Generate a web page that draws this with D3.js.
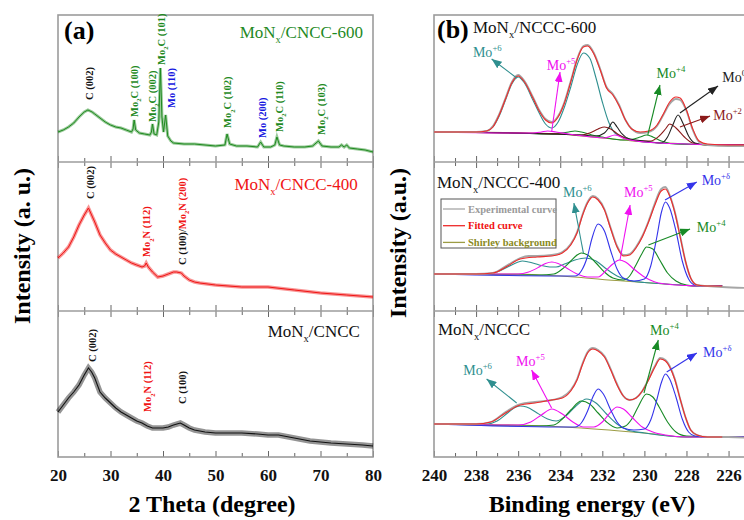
<!DOCTYPE html>
<html>
<head>
<meta charset="utf-8">
<script src="https://cdn.jsdelivr.net/npm/d3@7"></script>
<style>
  body { margin: 0; background: #fff; }
  svg { display: block; font-family: "Liberation Serif", "Times New Roman", serif; }
</style>
</head>
<body>
<div id="chart"></div>
<script>
// ---------- (a) XRD traces: [2theta, intensity] ----------
var xrd600 = [[20,30],[21,32],[22,35],[23,39],[24,45],[25,50],[25.7,52],[26.5,50],[27,48],[28,44],[29,40],[30,37],[31,35],[32,34],[33,32],[34,30],[34.3,33],[34.5,42],[34.8,32],[35.5,29],[36.5,28],[37.5,27],[37.8,30],[38.0,38],[38.3,28],[38.8,27],[39.2,40],[39.5,94],[39.8,45],[40.1,30],[40.5,47],[40.9,26],[41.5,21],[42,19],[44,18],[46,18],[48,17],[50,16],[51.8,17],[52.2,28],[52.7,18],[54,16],[56,16],[58,15],[58.6,20],[59.2,15],[60.5,15],[61.3,17],[61.7,25],[62.2,17],[63,16],[65,15],[67,15],[68.5,16],[69.6,21],[70.3,16],[72,15],[73.5,15],[74,17],[74.5,15],[75,17],[75.5,14],[77,13],[78.5,12],[80,10]]
var xrd400 = [[20,53],[21,58],[22,64],[23,74],[24,86],[25,96],[25.8,103],[26.4,96],[27,89],[28,76],[29,68],[30,61],[31,57],[32,54],[33,51],[34,48],[35,46],[36,44],[36.5,45],[36.8,48],[37.2,44],[38,39],[39,34],[40,35],[41,37],[42,39],[42.6,39],[43.5,38],[44,35],[45,31],[46,29],[47,28],[50,26],[55,24],[60,24],[65,21],[70,18],[75,16],[80,14]]
var xrdCNCC = [[20,45],[21,52],[22,59],[23,65],[24,72],[25,82],[25.8,89],[26.4,85],[27,79],[28,65],[29,59],[30,54],[31,49],[32,45],[33,42],[34,39],[35,36],[36,34],[37,31],[38,29],[39,29],[40,29],[41,30],[42,32],[43.3,34],[44,32],[45,29],[46,27],[48,25],[50,24],[52,24],[55,24],[58,23],[60,22],[62,22],[64,20],[66,18],[68,16],[70,15],[72,14],[75,13],[78,12],[80,11]]

// peak labels: [[text pieces with colour], 2theta, intensity at text start]
var xrdLabels600 = [[[["C (002)","k"]],25.9,62],[[["Mo_{2}C (100)","g"]],34.5,45],[[["Mo_{2}C (002)","g"]],37.9,40],[[["Mo_{2}C (101)","g"]],39.6,97],[[["Mo (110)","b"]],41.5,54],[[["Mo_{2}C (102)","g"]],52.3,34],[[["Mo (200)","b"]],58.9,24],[[["Mo_{2}C (110)","g"]],62.1,30],[[["Mo_{2}C (103)","g"]],70.1,27]]
var xrdLabels400 = [[[["C (002)","k"]],26.1,112],[[["Mo_{2}N (112)","r"]],36.9,54],[[["C (100)/","k"],["Mo_{2}N (200)","r"]],43.6,46]]
var xrdLabelsCNCC = [[[["C (002)","k"]],26.5,95],[[["Mo_{2}N (112)","r"]],37.1,45],[[["C (100)","k"]],43.6,53]]
var xrdNames = ["MoN_{x}/CNCC-600","MoN_{x}/CNCC-400","MoN_{x}/CNCC"]
var xrdTicks = [20,30,40,50,60,70,80]
var xrdMinor = [25,35,45,55,65,75]

// ---------- (b) XPS Mo 3d: [binding energy, intensity] ----------
var bg600 = [[240,30],[238,30],[236,29],[234,28],[233,26],[232,24],[231,22],[230,20],[229,19],[228,18],[226,17],[225,17]]
var mo6_600 = [[240,30],[238,30],[237.5,31],[237.2,35],[236.9,46],[236.6,62],[236.3,78],[236,85],[235.7,79],[235.3,62],[235,49],[234.7,38],[234.4,34],[234.1,40],[233.8,55],[233.5,75],[233.2,97],[232.9,109],[232.6,104],[232.3,84],[232,60],[231.7,40],[231.4,29],[231,25],[230,20],[228,18],[225,17]]
var mo5_600 = [[240,30],[236,29],[235.3,29],[234.9,30],[234.6,31],[234.2,30],[233.6,28],[232.5,25],[231.9,24],[231.4,27],[230.9,23],[230,20],[228,18],[225,17]]
var mo4_600 = [[240,30],[236,29],[234.5,28],[234,29],[233.6,30],[233.3,31],[233,30],[232.5,27],[232,25],[231,22],[230.5,23],[230.2,25],[229.9,27],[229.6,25],[229.2,21],[228.5,18],[225,17]]
var mo2_600 = [[240,30],[234,28],[233,27],[232.6,29],[232.2,33],[231.9,35],[231.6,33],[231.2,27],[230.8,23],[230.2,21],[229.7,21],[229.3,26],[229.0,33],[228.8,38],[228.5,34],[228.1,25],[227.7,19],[227,17],[225,17]]
var mo0_600 = [[240,30],[233,27],[232.3,26],[231.9,29],[231.7,34],[231.5,40],[231.3,35],[231.1,29],[230.7,23],[230,21],[229.2,19],[228.9,25],[228.65,37],[228.4,47],[228.15,38],[227.9,26],[227.6,19],[227,17],[225,17]]
var exp600 = [[240,30],[238,30],[237.5,31],[237.2,36],[236.9,48],[236.6,64],[236.3,80],[236,87],[235.7,81],[235.3,65],[235,52],[234.7,43],[234.4,40],[234.1,46],[233.8,60],[233.5,81],[233.2,103],[232.9,116],[232.7,117],[232.4,109],[232.1,93],[231.8,75],[231.5,68],[231.2,57],[230.9,42],[230.6,33],[230.2,29],[229.8,30],[229.4,36],[229.1,47],[228.8,58],[228.5,63],[228.3,62],[228,51],[227.7,32],[227.4,20],[227,17],[226,16],[225,16]]
var fit600 = [[240,30],[238,30],[237.5,31],[237.2,35],[236.9,47],[236.6,63],[236.3,79],[236,86],[235.7,80],[235.3,64],[235,51],[234.7,42],[234.4,39],[234.1,45],[233.8,59],[233.5,80],[233.2,102],[232.9,115],[232.7,116],[232.4,108],[232.1,92],[231.8,74],[231.5,67],[231.2,56],[230.9,42],[230.6,33],[230.2,30],[229.8,31],[229.4,37],[229.1,48],[228.8,60],[228.5,65],[228.3,64],[228,52],[227.7,33],[227.4,21],[227,18],[226,17],[225,17]]

var bg400 = [[240,37],[238,37],[236,37],[235,36],[234,35],[233,33.5],[232,31.5],[231,30],[230,28.5],[229,27],[228,25.5],[227.5,25],[226.3,25]]
var mo6_400 = [[240,37],[237.5,37],[237,39],[236.5,44],[236,49],[235.8,50],[235.5,49],[235,46],[234.5,44],[234.2,44],[233.8,47],[233.3,51],[232.8,53],[232.3,50],[231.8,42],[231.3,35],[230.8,31],[230,28.5],[229,27],[228,25.5],[227.5,25],[226.3,25]]
var mo5_400 = [[240,37],[236,37],[235.5,39],[235,44],[234.7,47.5],[234.4,49],[234.1,47.5],[233.7,43],[233.2,37],[232.7,34],[232.2,34],[231.8,41],[231.5,47],[231.2,51],[230.9,49],[230.5,42],[230,34],[229.5,29],[229,27],[228,25.5],[227.5,25],[226.3,25]]
var mo4_400 = [[240,37],[235,36],[234.3,37],[233.9,42],[233.5,50],[233.2,56],[233.0,58],[232.7,56],[232.3,48],[231.9,39],[231.5,33],[231,31],[230.7,35],[230.4,46],[230.1,58],[229.9,64],[229.6,62],[229.3,52],[228.9,38],[228.5,30],[228,26],[227.5,25],[226.3,25]]
var moD_400 = [[240,37],[234,35],[233.3,35],[233,40],[232.7,55],[232.5,72],[232.2,87],[231.9,80],[231.6,60],[231.3,42],[231,33],[230.5,30],[230,32],[229.7,45],[229.4,75],[229.2,98],[229.0,109],[228.8,103],[228.5,80],[228.2,50],[227.9,32],[227.6,26],[227.2,25],[226.3,25]]
var exp400 = [[240,37],[238,37],[237.2,38],[236.5,46],[235.9,53],[235.5,55],[235.1,55],[234.4,56],[233.9,59],[233.5,67],[233.2,79],[232.95,96],[232.7,109],[232.45,115],[232.2,112],[231.9,102],[231.6,83],[231.3,65],[231.0,56],[230.7,57],[230.4,64],[230.1,75],[229.8,90],[229.5,108],[229.2,122],[229.0,124],[228.8,116],[228.55,99],[228.3,75],[228.05,50],[227.8,33],[227.5,26],[227,25],[226.3,24],[225,23]]
var fit400 = [[240,37],[238,37],[237.2,38],[236.5,45],[235.9,52],[235.1,54],[234.4,55],[233.9,58],[233.5,66],[233.2,78],[232.95,95],[232.7,108],[232.45,114],[232.2,111],[231.9,101],[231.6,82],[231.3,64],[231.0,55],[230.7,56],[230.4,63],[230.1,74],[229.8,89],[229.5,106],[229.2,120],[229.0,122],[228.8,115],[228.55,98],[228.3,74],[228.05,50],[227.8,33],[227.5,26],[227,25],[226.3,25]]

var bgN = [[240,33],[236,32],[233,29],[230,24],[228,20],[226,20],[225,20]]
var mo6_N = [[240,33],[237.5,33],[237,36],[236.5,44],[236.1,50],[235.9,51],[235.6,50],[235.1,44],[234.6,38],[234.2,36],[233.8,40],[233.3,50],[232.75,58],[232.3,54],[231.8,43],[231.3,33],[230.8,27],[230,24],[228,20],[225,20]]
var mo5_N = [[240,33],[236,32],[235.4,35],[234.9,42],[234.4,48],[233.9,43],[233.4,35],[232.9,30],[232.4,30],[232,35],[231.6,45],[231.3,50],[231,48],[230.6,40],[230.1,30],[229.6,25],[229,22],[228,20],[225,20]]
var mo4_N = [[240,33],[235,31],[234.3,32],[233.9,38],[233.5,47],[233.0,56],[232.6,53],[232.2,44],[231.8,35],[231.3,29],[230.9,31],[230.6,38],[230.3,50],[229.9,63],[229.6,60],[229.3,50],[228.9,35],[228.5,25],[228,21],[225,20]]
var moD_N = [[240,33],[234,30],[233.3,30],[233,34],[232.7,46],[232.45,60],[232.2,68],[231.95,63],[231.6,47],[231.3,35],[231,29],[230.5,27],[230,28],[229.7,37],[229.4,58],[229.2,74],[229.0,83],[228.8,78],[228.5,60],[228.2,38],[227.9,25],[227.6,21],[227,20],[225,20]]
var expN = [[240,33],[238,33],[237.3,35],[236.6,45],[235.9,53],[235.2,55],[234.4,57],[233.9,60],[233.5,67],[233.2,78],[232.95,93],[232.7,105],[232.45,109],[232.2,107],[231.9,101],[231.6,88],[231.3,73],[231.0,61],[230.7,57],[230.4,59],[230.1,66],[229.8,78],[229.5,91],[229.25,99],[229.0,97],[228.8,91],[228.55,78],[228.3,58],[228.05,40],[227.8,27],[227.5,22],[227,20],[226,20],[225,19]]
var fitN = [[240,33],[238,33],[237.3,35],[236.6,44],[235.9,52],[235.2,54],[234.4,57],[233.9,59],[233.5,66],[233.2,77],[232.95,92],[232.7,104],[232.45,108],[232.2,106],[231.9,100],[231.6,87],[231.3,72],[231.0,61],[230.7,57],[230.4,59],[230.1,66],[229.8,77],[229.5,90],[229.25,98],[229.0,96],[228.8,90],[228.55,77],[228.3,58],[228.05,40],[227.8,27],[227.5,22],[227,20],[226.3,20]]

// notes: [text, colour, labelE, labelI, arrowFromE, arrowFromI, arrowToE, arrowToI]
var xpsNotes600 = [["Mo^{+6}","teal",238.15,105,236.07,84,237.26,103],["Mo^{+5}","mag",234.64,92,234.41,30,234.01,90],["Mo^{+4}","green",229.42,84,229.84,27,229.26,77],["Mo^{0}","black",226.3,80,228.31,49,226.5,76],["Mo^{+2}","dred",226.73,42,228.31,35,226.88,46]]
var xpsNotes400 = [["Mo^{+6}","teal",233.87,114,232.9,58,233.35,108],["Mo^{+5}","mag",230.97,114,231.16,51,230.68,106],["Mo^{+δ}","blue",227.28,126,229.02,111,227.51,129],["Mo^{+4}","green",227.51,79,229.81,66,227.83,82]]
var xpsNotesN = [["Mo^{+6}","teal",238.61,82,236.07,54,237.5,78],["Mo^{+5}","mag",236.1,91,234.41,49,235.36,87],["Mo^{+4}","green",229.73,122,230.02,64,229.34,117],["Mo^{+δ}","blue",227.21,100,228.94,85,227.51,104]]
var xpsNames = ["MoN_{x}/NCCC-600","MoN_{x}/NCCC-400","MoN_{x}/NCCC"]
var xpsTicks = [240,238,236,234,232,230,228,226]
var xpsMinor = [239,237,235,233,231,229,227,225]
var legendItems = [["Experimental curve","exp"],["Fitted curve","fit"],["Shirley background","bg"]]

var C = {k:"#111", g:"#1f8a1f", b:"#1616e0", r:"#f01414",
  teal:"#2f8f8f", mag:"#f010f0", green:"#178a25", blue:"#3434ea", black:"#222", dred:"#8b1a1a",
  exp:"#a6a6a6", fit:"#ee2a2a", bg:"#9c9c44", bgText:"#8a8a1e", frame:"#9c9c9c"}

var W = 744, H = 520
var rows = [[15,162],[162,311],[311,457]]
var xA = d3.scaleLinear().domain([20,80]).range([58,373])
var xB = d3.scaleLinear().domain([240,225]).range([434,749.6])
var yS = rows.map(r => d3.scaleLinear().domain([0, r[1]-r[0]]).range([r[1], r[0]]))

var svg = d3.select("#chart").append("svg").attr("width", W).attr("height", H)

// text with _{sub} and ^{sup}
function rich(sel, str, size, fill) {
  var re = /([_^])\{([^}]*)\}/g, last = 0, m, cur = 0
  function add(s, kind) {
    var target = kind == "_" ? 0.32*size : kind == "^" ? -0.45*size : 0
    sel.append("tspan").attr("dy", target - cur).attr("font-size", kind ? size*0.62 : size)
      .attr("fill", fill).text(s)
    cur = target
  }
  while ((m = re.exec(str))) {
    if (m.index > last) add(str.slice(last, m.index), null)
    add(m[2], m[1])
    last = re.lastIndex
  }
  if (last < str.length) add(str.slice(last), null)
  return cur
}

function frame(x, x0, x1, majors, minors) {
  var g = svg.append("g")
  rows.forEach((r, i) => {
    g.append("g").attr("transform", "translate(0," + r[1] + ")")
      .call(d3.axisTop(x).tickValues(majors).tickSize(6).tickFormat(""))
    g.append("g").attr("transform", "translate(0," + r[1] + ")")
      .call(d3.axisTop(x).tickValues(minors).tickSize(4).tickFormat(""))
    if (i > 0) {
      g.append("g").attr("transform", "translate(0," + r[0] + ")")
        .call(d3.axisBottom(x).tickValues(majors).tickSize(6).tickFormat(""))
      g.append("g").attr("transform", "translate(0," + r[0] + ")")
        .call(d3.axisBottom(x).tickValues(minors).tickSize(4).tickFormat(""))
    }
  })
  g.selectAll(".domain").remove()
  g.selectAll(".tick line").attr("stroke", "#666").attr("stroke-width", 1)
  g.append("rect").attr("x", x0).attr("y", rows[0][0]).attr("width", x1 - x0)
    .attr("height", rows[2][1] - rows[0][0]).attr("fill", "none")
    .attr("stroke", C.frame).attr("stroke-width", 1.6)
  rows.slice(1).forEach(r => g.append("line").attr("x1", x0).attr("x2", x1)
    .attr("y1", r[0]).attr("y2", r[0]).attr("stroke", C.frame).attr("stroke-width", 1.6))
  var lab = svg.append("g").attr("transform", "translate(0," + rows[2][1] + ")")
    .call(d3.axisBottom(x).tickValues(majors).tickSize(0).tickPadding(12))
  lab.select(".domain").remove()
  lab.selectAll("text").attr("font-size", 17).attr("font-weight", "bold")
    .attr("font-family", "Liberation Serif").attr("fill", "#111")
}

// ---------- panel (a) ----------
frame(xA, 58, 373, xrdTicks, xrdMinor)
var xrdSets = [[xrd600, C.g, 1, 3], [xrd400, C.r, 1, 3.5], [xrdCNCC, C.k, 1.1, 5.5]]
xrdSets.forEach((s, i) => {
  var line = d3.line().x(d => xA(d[0])).y(d => yS[i](d[1]))
  svg.append("path").datum(s[0]).attr("d", line).attr("fill", "none")
    .attr("stroke", s[1]).attr("stroke-width", s[3]).attr("stroke-opacity", 0.45)
  svg.append("path").datum(s[0]).attr("d", line).attr("fill", "none")
    .attr("stroke", s[1]).attr("stroke-width", s[2])
})
function peakLabel(parts, th, iv, row) {
  var t = svg.append("text").attr("font-weight", "bold")
    .attr("transform", "translate(" + xA(th) + "," + yS[row](iv) + ") rotate(-90)")
    .attr("y", 3.7)
  var cur = 0
  parts.forEach((p, k) => {
    var first = t.selectAll("tspan").size()
    var end = rich(t, p[0], 10.5, C[p[1]])
    // keep baseline continuous between coloured pieces
    if (k > 0) {
      var ts = t.selectAll("tspan").nodes()[first]
      d3.select(ts).attr("dy", +d3.select(ts).attr("dy") - cur)
    }
    cur = end
  })
}
;[xrdLabels600, xrdLabels400, xrdLabelsCNCC].forEach((list, row) => {
  list.forEach(l => peakLabel(l[0], l[1], l[2], row))
})
var nameCol = [C.g, C.r, C.k], nameAt = [[78.1,124],[77.1,121],[77.5,120]]
xrdNames.forEach((n, i) => {
  var t = svg.append("text").attr("x", xA(nameAt[i][0])).attr("y", yS[i](nameAt[i][1]))
    .attr("text-anchor", "end")
  rich(t, n, 17, nameCol[i])
})
svg.append("text").attr("x", 64).attr("y", 39).attr("font-size", 26).attr("font-weight", "bold").text("(a)")

// ---------- panel (b) ----------
var defs = svg.append("defs")
var clip = defs.append("clipPath").attr("id", "clipB")
clip.append("rect").attr("x", 434).attr("y", rows[0][0]).attr("width", 330).attr("height", rows[2][1] - rows[0][0])
;["teal","mag","green","blue","black","dred"].forEach(k => {
  defs.append("marker").attr("id", "ah-" + k).attr("viewBox", "0 0 10 8")
    .attr("refX", 10).attr("refY", 4).attr("markerWidth", 10).attr("markerHeight", 8)
    .attr("markerUnits", "userSpaceOnUse").attr("orient", "auto")
    .append("path").attr("d", "M0,0L10,4L0,8Z").attr("fill", C[k])
})
frame(xB, 434, 760, xpsTicks, xpsMinor)
var xpsRows = [
  [[bg600,"bg"],[mo6_600,"teal"],[mo4_600,"green"],[mo2_600,"dred"],[mo0_600,"black"],[mo5_600,"mag"],[exp600,"exp"],[fit600,"fit"]],
  [[bg400,"bg"],[mo6_400,"teal"],[mo4_400,"green"],[mo5_400,"mag"],[moD_400,"blue"],[exp400,"exp"],[fit400,"fit"]],
  [[bgN,"bg"],[mo6_N,"teal"],[mo4_N,"green"],[mo5_N,"mag"],[moD_N,"blue"],[expN,"exp"],[fitN,"fit"]]
]
var gB = svg.append("g").attr("clip-path", "url(#clipB)")
xpsRows.forEach((set, i) => {
  var line = d3.line().x(d => xB(d[0])).y(d => yS[i](d[1])).curve(d3.curveMonotoneX)
  set.forEach(s => {
    gB.append("path").datum(s[0]).attr("d", line).attr("fill", "none")
      .attr("stroke", C[s[1]]).attr("stroke-width", s[1] == "exp" ? 1.8 : 1.1)
  })
})
;[xpsNotes600, xpsNotes400, xpsNotesN].forEach((list, i) => {
  list.forEach(n => {
    svg.append("line").attr("x1", xB(n[4])).attr("y1", yS[i](n[5]))
      .attr("x2", xB(n[6])).attr("y2", yS[i](n[7])).attr("stroke", C[n[1]])
      .attr("stroke-width", 1.1).attr("marker-end", "url(#ah-" + n[1] + ")")
    var t = svg.append("text").attr("x", xB(n[2])).attr("y", yS[i](n[3]))
    rich(t, n[0], 14, C[n[1]])
  })
})
var bNameAt = [[473,33],[437,188],[438,335]]
xpsNames.forEach((n, i) => {
  var t = svg.append("text").attr("x", bNameAt[i][0]).attr("y", bNameAt[i][1])
  rich(t, n, 17, "#111")
})
svg.append("text").attr("x", 437).attr("y", 38).attr("font-size", 26).attr("font-weight", "bold").text("(b)")

var leg = svg.append("g").attr("transform", "translate(441,199)")
leg.append("rect").attr("width", 115).attr("height", 49).attr("fill", "#fff")
  .attr("stroke", "#555").attr("stroke-width", 1)
legendItems.forEach((it, i) => {
  var yy = 10 + i * 16.7
  leg.append("line").attr("x1", 2).attr("x2", 24).attr("y1", yy).attr("y2", yy)
    .attr("stroke", C[it[1]]).attr("stroke-width", 1.3)
  leg.append("text").attr("x", 27).attr("y", yy + 3.5).attr("font-size", 10.5)
    .attr("font-weight", "bold").attr("fill", it[1] == "bg" ? C.bgText : it[1] == "fit" ? "#f01010" : "#9a9a9a")
    .text(it[0])
})

// axis titles
svg.append("text").attr("x", 212).attr("y", 512).attr("text-anchor", "middle")
  .attr("font-size", 24).attr("font-weight", "bold").text("2 Theta (degree)")
svg.append("text").attr("x", 592).attr("y", 512).attr("text-anchor", "middle")
  .attr("font-size", 24).attr("font-weight", "bold").text("Binding energy (eV)")
svg.append("text").attr("transform", "translate(30,246) rotate(-90)").attr("text-anchor", "middle")
  .attr("font-size", 24).attr("font-weight", "bold").text("Intensity (a. u.)")
svg.append("text").attr("transform", "translate(406,243) rotate(-90)").attr("text-anchor", "middle")
  .attr("font-size", 24).attr("font-weight", "bold").text("Intensity (a.u.)")
</script>
</body>
</html>
